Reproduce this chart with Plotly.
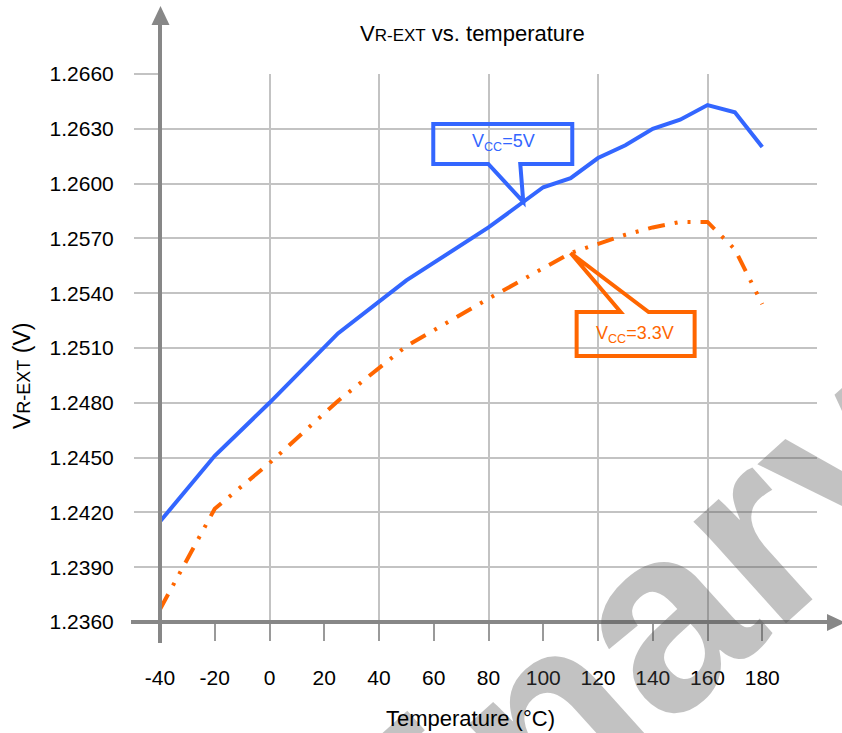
import plotly.graph_objects as go
import numpy as np

# ---------------- data ----------------
temp_5v = [-40, -20, 0, 25, 50, 80, 100, 110, 120, 130, 140, 150, 160, 170, 180]
vr_5v = [1.2415, 1.2451, 1.2480, 1.2518, 1.2547, 1.2576, 1.2598, 1.2603, 1.2614,
         1.2621, 1.2630, 1.2635, 1.2643, 1.2639, 1.2620]

temp_33v = [-40, -20, 0, 25, 50, 80, 110, 120, 130, 140, 150, 160, 170, 180]
vr_33v = [1.2367, 1.2422, 1.2447, 1.2481, 1.2511, 1.2537, 1.2562, 1.2567, 1.2572,
          1.2576, 1.2579, 1.2579, 1.2564, 1.2534]

x_ticks = [-40, -20, 0, 20, 40, 60, 80, 100, 120, 140, 160, 180]
x_grid = [0, 40, 80, 120, 160, 200]
y_ticks = [1.2360, 1.2390, 1.2420, 1.2450, 1.2480, 1.2510, 1.2540, 1.2570,
           1.2600, 1.2630, 1.2660]
y_ticktext = ["%.4f" % v for v in y_ticks]

label_5v = "V<sub>CC</sub>=5V"
label_33v = "V<sub>CC</sub>=3.3V"
callout_5v_temp = 92.7
callout_33v_temp = 110

# ---------------- geometry / style ----------------
W, H = 842, 733
ML, MR, MT, MB = 160, 25, 74, 111
PW, PH = W - ML - MR, H - MT - MB

def px(x):   # pixel x -> paper
    return (x - ML) / PW

def py(y):   # pixel y -> paper
    return (H - MB - y) / PH

BLUE = "#3366FF"
ORANGE = "#FF6600"
AXIS = "#878787"
GRID = "#C3C3C3"
FONT = "Liberation Sans, Arial, sans-serif"

fig = go.Figure()
fig.add_trace(go.Scatter(x=temp_5v, y=vr_5v, mode="lines",
                         line=dict(color=BLUE, width=4), showlegend=False))
fig.add_trace(go.Scatter(x=temp_33v, y=vr_33v, mode="lines",
                         line=dict(color=ORANGE, width=4,
                                   dash="17px,10px,3px,10px,3px,10px"),
                         showlegend=False))
# invisible trace on overlay axis to host vertical gridlines
fig.add_trace(go.Scatter(x=[x_grid[0]], y=[y_ticks[0]], xaxis="x2", mode="markers",
                         marker=dict(opacity=0), showlegend=False, hoverinfo="skip"))

fig.update_layout(
    width=W, height=H,
    margin=dict(l=ML, r=MR, t=MT, b=MB, pad=0),
    paper_bgcolor="white", plot_bgcolor="white",
    font=dict(family=FONT, size=20, color="black"),
    xaxis=dict(range=[-40, 200], tickvals=x_ticks, ticktext=[str(v) for v in x_ticks],
               showgrid=False, zeroline=False, showline=False,
               ticks="outside", ticklen=18, tickwidth=2, tickcolor="#9A9A9A",
               ticklabelstandoff=19, tickfont=dict(size=21)),
    xaxis2=dict(range=[-40, 200], overlaying="x", tickvals=x_grid, showgrid=True,
                gridcolor=GRID, gridwidth=2, showticklabels=False, ticks="",
                zeroline=False, showline=False),
    yaxis=dict(range=[y_ticks[0], y_ticks[-1]], tickvals=y_ticks, ticktext=y_ticktext,
               showgrid=True, gridcolor=GRID, gridwidth=2, zeroline=False,
               showline=False, ticks="outside", ticklen=25, tickwidth=2,
               tickcolor=GRID, ticklabelstandoff=16, tickfont=dict(size=21)),
)

shapes = []
# x axis line + arrow
shapes.append(dict(type="line", xref="paper", yref="paper",
                   x0=px(131), x1=px(830), y0=0, y1=0,
                   line=dict(color=AXIS, width=4), layer="above"))
shapes.append(dict(type="path", xref="paper", yref="paper",
                   path="M %f,%f L %f,%f L %f,%f Z" % (px(827), py(614), px(845), py(622.5),
                                                      px(827), py(631)),
                   fillcolor=AXIS, line=dict(color=AXIS, width=0), layer="above"))
# y axis line + arrow
shapes.append(dict(type="line", xref="paper", yref="paper",
                   x0=0, x1=0, y0=py(643), y1=py(22),
                   line=dict(color=AXIS, width=4), layer="above"))
shapes.append(dict(type="path", xref="paper", yref="paper",
                   path="M %f,%f L %f,%f L %f,%f Z" % (px(151.5), py(25), px(160.5), py(6),
                                                      px(169.5), py(25)),
                   fillcolor=AXIS, line=dict(color=AXIS, width=0), layer="above"))

# callouts anchored to the data curves (pixel offsets relative to tip)
tip5_y = float(np.interp(callout_5v_temp, temp_5v, vr_5v))
tip33_y = float(np.interp(callout_33v_temp, temp_33v, vr_33v))
shapes.append(dict(type="path", xref="x", yref="y", xsizemode="pixel", ysizemode="pixel",
                   xanchor=callout_5v_temp, yanchor=tip5_y,
                   path="M -90,78 L 49,78 L 49,38 L -3,38 L 0,0 L -35,38 L -90,38 Z",
                   line=dict(color=BLUE, width=4), layer="above"))
shapes.append(dict(type="path", xref="x", yref="y", xsizemode="pixel", ysizemode="pixel",
                   xanchor=callout_33v_temp, yanchor=tip33_y,
                   path="M 6,-59 L 50,-59 L 0,0 L 78,-59 L 124,-59 L 124,-103 L 6,-103 Z",
                   line=dict(color=ORANGE, width=4), layer="above"))
fig.update_layout(shapes=shapes)

annotations = [
    # watermark
    dict(text="<b>Preliminary</b>", xref="paper", yref="paper", x=px(370), y=py(878),
         showarrow=False, textangle=-42, font=dict(size=260, color="rgba(80,80,80,0.35)",
                                                   family=FONT),
         xanchor="center", yanchor="middle"),
    dict(text=label_5v, xref="x", yref="y", x=callout_5v_temp, y=tip5_y, xshift=-20,
         yshift=59, showarrow=False, font=dict(size=18, color=BLUE)),
    dict(text=label_33v, xref="x", yref="y", x=callout_33v_temp, y=tip33_y, xshift=64,
         yshift=-81, showarrow=False, font=dict(size=18, color=ORANGE)),
    # title
    dict(text="V<span style='font-size:17px'>R-EXT</span> vs. temperature",
         xref="paper", yref="paper", x=px(472), y=py(33), showarrow=False,
         font=dict(size=22), xanchor="center", yanchor="middle"),
    # axis titles
    dict(text="V<span style='font-size:18px'>R-EXT</span> (V)", xref="paper", yref="paper",
         x=px(22), y=py(376), textangle=-90, showarrow=False, font=dict(size=23),
         xanchor="center", yanchor="middle"),
    dict(text="Temperature (°C)", xref="paper", yref="paper", x=px(470), y=py(718),
         showarrow=False, font=dict(size=22), xanchor="center", yanchor="middle"),
]
fig.update_layout(annotations=annotations)

fig.write_html("out.html")
